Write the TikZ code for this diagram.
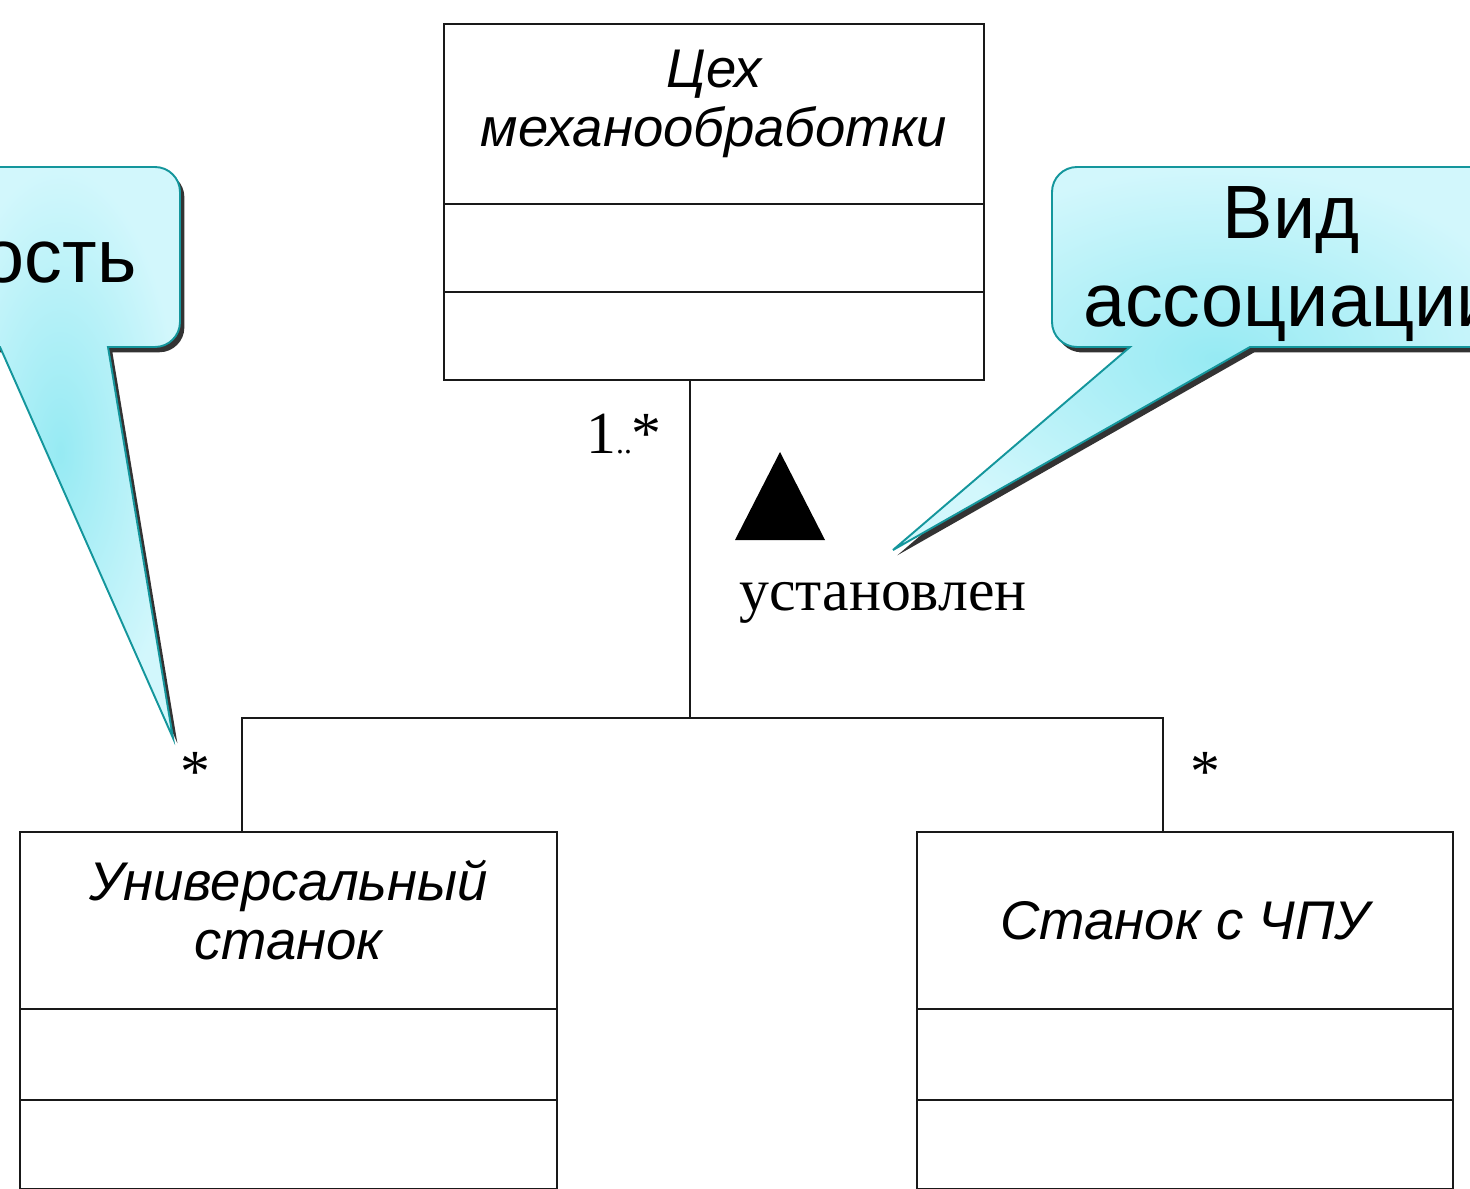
\documentclass[tikz,border=0pt]{standalone}
\usepackage{fontspec}
\setmainfont{Liberation Serif}
\setsansfont{Liberation Sans}
\usepackage{tikz}
\usetikzlibrary{positioning, shadows}
\definecolor{noteedge}{RGB}{20,150,156}
\definecolor{notedeep}{RGB}{150,234,243}
\definecolor{notepale}{RGB}{210,247,252}
\tikzset{
    namepart/.style={rectangle, draw=black!90, line width=1.6pt, align=center, inner sep=0pt, outer sep=0pt,
        font=\sffamily\itshape\fontsize{31}{34}\selectfont},
    emptypart/.style={rectangle, draw=black!90, line width=1.6pt, inner sep=0pt, outer sep=0pt},
    assoc/.style={draw=black!90, line width=1.4pt},
    multlabel/.style={inner sep=0pt, font=\fontsize{34}{34}\selectfont},
    notebox/.style={draw=noteedge, line width=1.1pt, inner color=notedeep, outer color=notepale,
        drop shadow={shadow xshift=2.5pt, shadow yshift=-3pt, opacity=0.8, fill=black}},
    notetext/.style={inner sep=0pt, align=center, font=\sffamily\fontsize{43}{50}\selectfont},
}

\begin{document}
\begin{tikzpicture}[x=0.02cm, y=-0.02cm]
    \useasboundingbox (0,0) rectangle (1470,1189);

    \node[namepart, minimum width=10.8cm, minimum height=3.6cm, text depth=18pt] (shop) at (714,114) {Цех\\механообработки};
    \node[emptypart, minimum width=10.8cm, minimum height=1.76cm, below=0pt of shop] (shopattr) {};
    \node[emptypart, minimum width=10.8cm, minimum height=1.76cm, below=0pt of shopattr] (shopops) {};

    \node[namepart, minimum width=10.74cm, minimum height=3.54cm, text depth=12pt] (univ) at (288.5,920.5) {Универсальный\\станок};
    \node[emptypart, minimum width=10.74cm, minimum height=1.82cm, below=0pt of univ] (univattr) {};
    \node[emptypart, minimum width=10.74cm, minimum height=1.78cm, below=0pt of univattr] (univops) {};

    \node[namepart, minimum width=10.72cm, minimum height=3.54cm] (cnc) at (1185,920.5) {Станок с ЧПУ};
    \node[emptypart, minimum width=10.72cm, minimum height=1.82cm, below=0pt of cnc] (cncattr) {};
    \node[emptypart, minimum width=10.72cm, minimum height=1.78cm, below=0pt of cncattr] (cncops) {};

    \coordinate (fork) at (690,718);
    \coordinate (univfork) at (242,718);
    \coordinate (cncfork) at (1163,718);
    \draw[assoc] (shopops.south -| fork) -- (fork);
    \draw[assoc] (univ.north -| univfork) -- (univfork) -- (cncfork) -- (cnc.north -| cncfork);

    \node[multlabel] (shopmult) at (624,434) {1{\fontsize{18}{18}\selectfont..}*};
    \node[multlabel] (univmult) at (195,772) {*};
    \node[multlabel] (cncmult) at (1205,772) {*};
    \fill (735,540) -- (825,540) -- (780,452) -- cycle;
    \node[multlabel] (assocname) at (883,603) {установлен};

    \coordinate (multtip) at (173,738);
    \coordinate (assoctip) at (893,550);
    \path[notebox] (140,347) [rounded corners=0.5cm] -- (180,347) -- (180,167) -- (-60,167) -- (-60,347) -- (-30,347)
        [sharp corners] -- (0,347) -- (multtip) -- (108,347) -- cycle;
    \node[notetext, anchor=base east] (multnote) at (137,283) {ость};

    \path[notebox] (1300,347) [rounded corners=0.5cm] -- (1540,347) -- (1540,167) -- (1052,167) -- (1052,347) -- (1100,347)
        [sharp corners] -- (1130,347) -- (assoctip) -- (1250,347) -- cycle;
    \node[notetext] (assocnote) at (1291,264) {Вид\\ассоциации};
\end{tikzpicture}
\end{document}
